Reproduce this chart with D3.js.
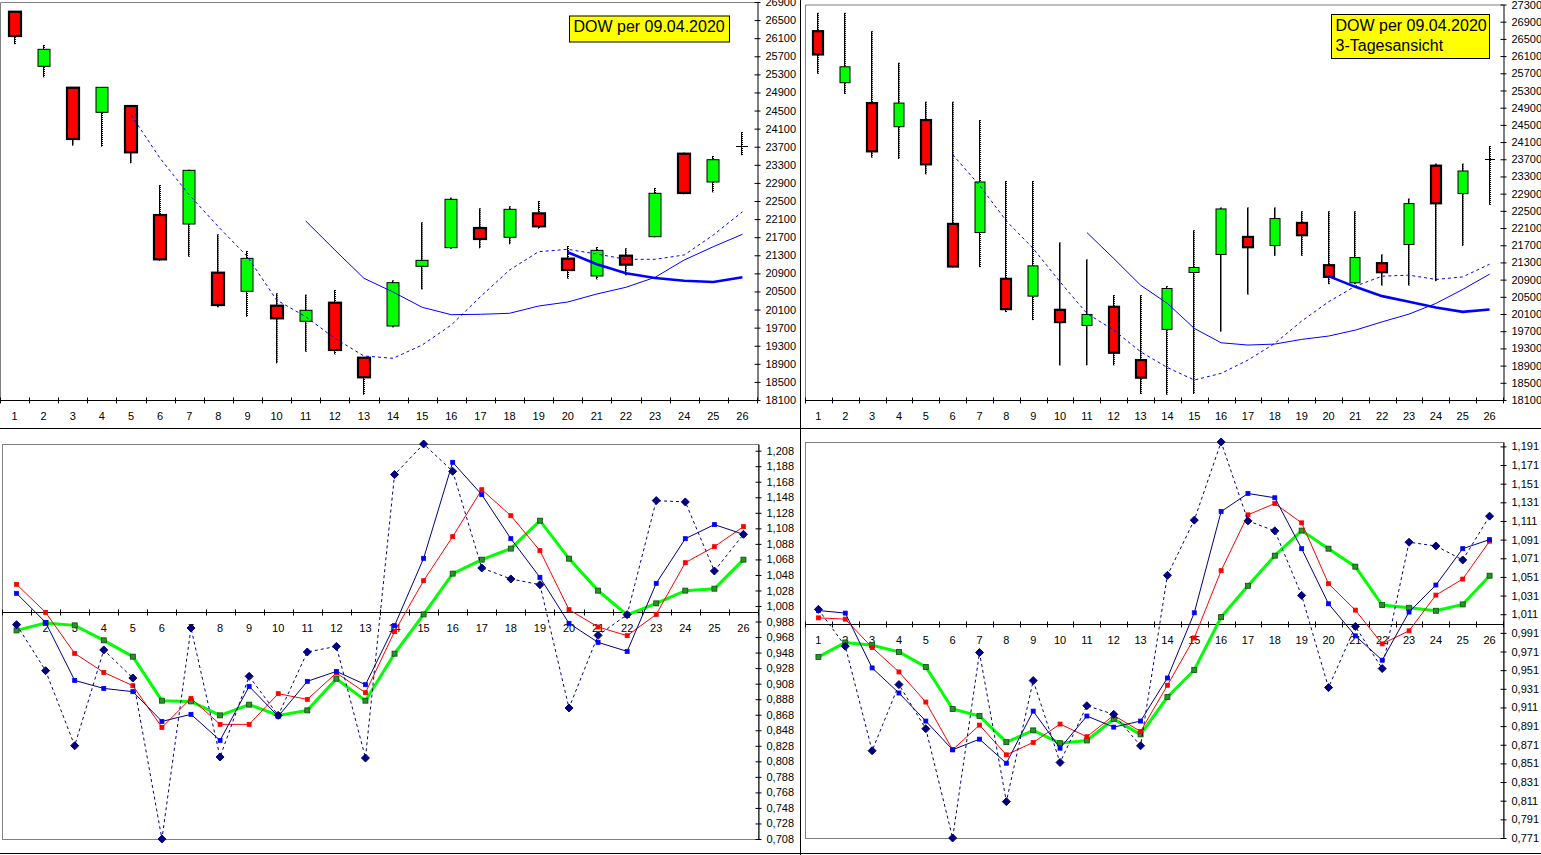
<!DOCTYPE html>
<html><head><meta charset="utf-8">
<script src="https://cdn.jsdelivr.net/npm/d3@7/dist/d3.min.js"></script>
<style>
body{margin:0;background:#fff;}
svg{display:block;}
</style></head><body>
<svg id="c" width="1541" height="855"></svg>
<script>
// ---------------- DATA ----------------
const categories = ["1","2","3","4","5","6","7","8","9","10","11","12","13","14","15","16","17","18","19","20","21","22","23","24","25","26"];

// Top-left: daily candles
const dayOpen  = [26685,25478,25005,24461,24600,22190,21991,20915,20503,20185,19840,20251,19035,19736,21056,21468,21903,21697,22227,21225,20842,21291,21711,23546,22920,23709];
const dayHigh  = [26700,25950,25010,25020,24610,22854,23190,21763,21394,20459,20428,20532,19050,20746,22028,22573,22338,22382,22500,21505,21482,21454,22787,23568,23495,24025];
const dayLow   = [25965,25235,23723,23701,23333,21180,21269,20150,19942,18911,19168,19110,18217,19707,20547,21446,21454,21542,21888,20783,20768,20856,21697,22648,22692,23510];
const dayClose = [26148,25854,23871,25014,23576,21210,23178,20200,21232,19906,20083,19206,18602,20694,21188,22537,21660,22316,21940,20974,21409,21092,22670,22677,23413,23709];
const dayMaDashed = [null,null,null,null,24401,23444,22633,21932,21268,20311,19942,19464,19073,19022,19316,19758,20384,20974,21379,21432,21328,21211,21211,21306,21748,22263];
const dayMaSolid  = [null,null,null,null,null,null,null,null,null,null,22058,21417,20791,20488,20150,19986,19995,20017,20178,20267,20444,20592,20813,21195,21490,21764];
const dayMaThick  = [null,null,null,null,null,null,null,null,null,null,null,null,null,null,null,null,null,null,null,21366,21100,20901,20797,20738,20709,20813];
const dayPriceDomain = [18100, 26900];
const dayPriceTicks = [18100,18500,18900,19300,19700,20100,20500,20900,21300,21700,22100,22500,22900,23300,23700,24100,24500,24900,25300,25700,26100,26500,26900];

// Top-right: 3-day candles
const triOpen  = [26679,25480,25007,24457,24612,22196,21995,20919,20516,20198,19834,20268,19029,19742,21066,21484,21894,21693,22219,21236,20826,21283,21716,23551,22901,23706];
const triHigh  = [27106,27106,26679,25944,25038,25038,24612,23195,23195,21763,21368,20539,20539,20748,22049,22577,22577,22577,22491,22491,22491,21484,22785,23598,23598,24008];
const triLow   = [25689,25216,23737,23706,23350,21182,21190,20144,19958,18905,18905,18905,18239,18223,18239,19687,20555,21453,21453,20795,20795,20764,20764,20864,21685,22638];
const triClose = [26138,25851,23884,25007,23582,21205,23172,20214,21220,19912,20090,19199,18619,20694,21182,22544,21654,22320,21933,20965,21414,21073,22669,22676,23427,23706];
const triMaDashed = [null,null,null,null,null,23808,23094,22265,21624,20848,20114,19726,19222,18855,18565,18720,19029,19417,19935,20384,20748,20981,21004,20904,20964,21259];
const triMaSolid  = [null,null,null,null,null,null,null,null,null,null,21996,21392,20771,20346,19766,19431,19378,19401,19510,19587,19726,19919,20098,20346,20672,21027];
const triMaThick  = [null,null,null,null,null,null,null,null,null,null,null,null,null,null,null,null,null,null,null,20981,20732,20516,20384,20253,20151,20207];
const triPriceDomain = [18100, 27300];
const triPriceTicks = [18100,18500,18900,19300,19700,20100,20500,20900,21300,21700,22100,22500,22900,23300,23700,24100,24500,24900,25300,25700,26100,26500,26900,27300];

// Bottom-left: daily ratios
const dayRatioD = [0.984,0.9247,0.8281,0.9514,0.9153,0.708,0.9797,0.8136,0.9174,0.8672,0.9488,0.956,0.8123,1.1772,1.2166,1.1814,1.057,1.0428,1.0355,0.8767,0.9702,0.9969,1.1437,1.142,1.0531,1.1003];
const dayRatioB = [1.0243,0.9869,0.9122,0.9019,0.8977,0.8594,0.8685,0.835,0.9045,0.8659,0.911,0.9238,0.9067,0.9827,1.0694,1.193,1.1514,1.0947,1.0449,0.9857,0.9612,0.9496,1.0372,1.0947,1.1128,1.1003];
const dayRatioR = [1.0359,0.9998,0.947,0.9225,0.9054,0.8517,0.8891,0.8556,0.8556,0.8951,0.8878,0.9218,0.8964,0.975,1.0406,1.0973,1.1578,1.1243,1.0793,1.0033,0.981,0.9698,0.9972,1.0638,1.0844,1.1102];
const dayRatioG = [0.9766,0.9862,0.9831,0.9638,0.9428,0.8861,0.8852,0.8672,0.881,0.8672,0.8736,0.9144,0.8861,0.9466,0.9972,1.0497,1.0677,1.0819,1.1179,1.069,1.0278,0.9965,1.0114,1.0278,1.0303,1.0677];
const dayRatioDomain = [0.708, 1.2166];
const dayRatioTicks = [0.708,0.728,0.748,0.768,0.788,0.808,0.828,0.848,0.868,0.888,0.908,0.928,0.948,0.968,0.988,1.008,1.028,1.048,1.068,1.088,1.108,1.128,1.148,1.168,1.188,1.208];

// Bottom-right: 3-day ratios
const triRatioD = [1.0162,0.9767,0.8646,0.9355,0.8882,0.771,0.9699,0.81,0.9398,0.852,0.9129,0.9036,0.8699,1.0527,1.1119,1.1957,1.1111,1.1004,1.0312,0.9323,0.9979,0.9527,1.0882,1.0842,1.0692,1.1162];
const triRatioB = [1.015,1.0122,0.9534,0.9265,0.8964,0.8656,0.877,0.8512,0.9071,0.8673,0.9018,0.8899,0.8964,0.9426,1.0125,1.1211,1.1405,1.1359,1.0813,1.0222,0.9878,0.9617,1.0133,1.0423,1.0813,1.091];
const triRatioR = [1.0071,1.0057,0.9753,0.9491,0.9168,0.8656,0.8921,0.8602,0.8735,0.8932,0.8796,0.9025,0.8853,0.9348,0.9856,1.0577,1.1176,1.1297,1.109,1.0437,1.0154,0.9792,0.9932,1.0315,1.0487,1.0893];
const triRatioG = [0.9652,0.9807,0.9778,0.9706,0.9544,0.9093,0.9018,0.8738,0.8864,0.8727,0.8756,0.8985,0.8821,0.9222,0.9512,1.0079,1.0415,1.0738,1.1007,1.0813,1.062,1.0208,1.0179,1.0147,1.0215,1.0523];
const triRatioDomain = [0.771, 1.1957];
const triRatioTicks = [0.771,0.791,0.811,0.831,0.851,0.871,0.891,0.911,0.931,0.951,0.971,0.991,1.011,1.031,1.051,1.071,1.091,1.111,1.131,1.151,1.171,1.191];
const ratioCrossAt = 1.0;

const titleDay = ["DOW per 09.04.2020"];
const titleTri = ["DOW per 09.04.2020", "3-Tagesansicht"];

// ---------------- LAYOUT / STYLE ----------------
const FONT = '"Liberation Sans", Arial, sans-serif';
const svg = d3.select('#c');
svg.append('rect').attr('width',1541).attr('height',855).attr('fill','#fff');

const layoutTL = {x0:0, x1:757, yt:2, yb:400, bodyFrac:0.42, box:{x:569, y:15.5, w:160, h:26}};
const layoutTR = {x0:805, x1:1503, yt:4.5, yb:400, bodyFrac:0.39, box:{x:1331, y:14, w:158, h:44}};
const layoutBL = {x0:2, x1:758, yt:444, yb:839};
const layoutBR = {x0:805, x1:1503, yt:442, yb:838};

function yAxisRight(g, y, xPix, ticks, fmt){
  const ay = d3.axisRight(y).tickValues(ticks).tickSizeInner(3).tickSizeOuter(0).tickPadding(5).tickFormat(fmt);
  const ga = g.append('g').attr('transform', `translate(${xPix+0.5},0)`).call(ay);
  ga.attr('font-family', FONT).attr('font-size', 11);
  ga.select('.domain').attr('stroke', '#000');
  ga.selectAll('.tick line').attr('x1', -3).attr('x2', 3).attr('stroke', '#000');
  ga.selectAll('.tick text').attr('fill', '#000');
}

function xAxisBand(g, x, yPix){
  const yp = Math.round(yPix) + 0.5;
  const [r0, r1] = x.range();
  g.append('line').attr('x1', r0).attr('x2', r1).attr('y1', yp).attr('y2', yp).attr('stroke', '#000');
  const bounds = x.domain().map(c => x(c)).concat([r1]);
  g.selectAll(null).data(bounds).join('line')
    .attr('x1', d => Math.round(d) + 0.5).attr('x2', d => Math.round(d) + 0.5)
    .attr('y1', yp - 3).attr('y2', yp + 3).attr('stroke', '#000');
  const ga = g.append('g').attr('transform', `translate(0,${yp})`).call(d3.axisBottom(x).tickSize(0).tickPadding(0));
  ga.select('.domain').remove();
  ga.attr('font-family', FONT).attr('font-size', 11);
  ga.selectAll('text').attr('y', 16).attr('dy', '0.35em').attr('fill', '#000');
}

function titleBox(g, b, lines){
  g.append('rect').attr('x', b.x + 0.5).attr('y', b.y + 0.5).attr('width', b.w).attr('height', b.h)
    .attr('fill', '#ffff00').attr('stroke', '#000');
  g.selectAll(null).data(lines).join('text')
    .attr('x', b.x + 4.5).attr('y', (d, i) => b.y + 16.5 + i * 20)
    .attr('font-family', FONT).attr('font-size', 16).attr('fill', '#000').text(d => d);
}

function candlePanel(L, D){
  const g = svg.append('g');
  const x = d3.scaleBand().domain(categories).range([L.x0, L.x1]);
  const y = d3.scaleLinear().domain(D.domain).range([L.yb, L.yt]);
  g.append('path').attr('d', `M${L.x0 + 0.5},${L.yb}V${L.yt + 0.5}H${L.x1}`).attr('fill', 'none').attr('stroke', '#808080');
  xAxisBand(g, x, L.yb);
  yAxisRight(g, y, L.x1, D.ticks, d3.format('d'));

  const idx = d3.range(categories.length);
  const cx = i => Math.round(x(categories[i]) + x.bandwidth() / 2);
  const bw = Math.round(x.bandwidth() * L.bodyFrac);
  // high-low lines (hatched look)
  g.selectAll(null).data(idx).join('line')
    .attr('x1', i => cx(i) - 0.5).attr('x2', i => cx(i) - 0.5)
    .attr('y1', i => y(D.high[i])).attr('y2', i => y(D.low[i])).attr('stroke', '#000').attr('stroke-width', 1);
  g.selectAll(null).data(idx).join('line')
    .attr('x1', i => cx(i) + 0.5).attr('x2', i => cx(i) + 0.5)
    .attr('y1', i => y(D.high[i])).attr('y2', i => y(D.low[i])).attr('stroke', '#000').attr('stroke-width', 1)
    .attr('stroke-dasharray', '1,1');
  // bodies
  idx.forEach(i => {
    const o = D.open[i], c = D.close[i];
    if (o === c) {
      g.append('line').attr('x1', cx(i) - bw / 2).attr('x2', cx(i) + bw / 2)
        .attr('y1', Math.round(y(o)) + 0.5).attr('y2', Math.round(y(o)) + 0.5).attr('stroke', '#000');
      return;
    }
    const up = c > o;
    const top = y(Math.max(o, c)), bot = y(Math.min(o, c));
    g.append('rect').attr('x', cx(i) - bw / 2).attr('y', top).attr('width', bw).attr('height', bot - top)
      .attr('fill', up ? '#00ff00' : '#ff0000').attr('stroke', '#000').attr('stroke-width', up ? 1 : 2.2);
  });
  // moving averages
  const line = d3.line().defined(d => d.v != null).x(d => x(d.c) + x.bandwidth() / 2).y(d => y(d.v));
  const series = (arr) => arr.map((v, i) => ({c: categories[i], v}));
  g.append('path').attr('d', line(series(D.maSolid))).attr('fill', 'none').attr('stroke', '#0000ff').attr('stroke-width', 1);
  g.append('path').attr('d', line(series(D.maDashed))).attr('fill', 'none').attr('stroke', '#0000ff').attr('stroke-width', 1).attr('stroke-dasharray', '3,3');
  g.append('path').attr('d', line(series(D.maThick))).attr('fill', 'none').attr('stroke', '#0000ff').attr('stroke-width', 2.6);
  titleBox(g, L.box, D.title);
}

function ratioPanel(L, D){
  const g = svg.append('g');
  const x = d3.scaleBand().domain(categories).range([L.x0, L.x1]);
  const y = d3.scaleLinear().domain(D.domain).range([L.yb, L.yt]);
  g.append('rect').attr('x', L.x0 + 0.5).attr('y', L.yt + 0.5).attr('width', L.x1 - L.x0).attr('height', L.yb - L.yt)
    .attr('fill', 'none').attr('stroke', '#808080');
  yAxisRight(g, y, L.x1, D.ticks, v => d3.format('.3f')(v).replace('.', ','));
  xAxisBand(g, x, y(ratioCrossAt));

  const px = i => x(categories[i]) + x.bandwidth() / 2;
  const line = d3.line().x((d, i) => px(i)).y(d => y(d));
  const specs = [
    {data: D.g, stroke: '#00ff00', w: 3, dash: null, marker: 'sq', mfill: '#2f8f2f', mstroke: '#005000', ms: 5},
    {data: D.r, stroke: '#ff0000', w: 1, dash: null, marker: 'sq', mfill: '#ff0000', mstroke: '#ff0000', ms: 4},
    {data: D.b, stroke: '#000080', w: 1, dash: null, marker: 'sq', mfill: '#0000ff', mstroke: '#0000ff', ms: 4},
    {data: D.d, stroke: '#000080', w: 1, dash: '3,3', marker: 'dia', mfill: '#000080', mstroke: '#000080', ms: 4}
  ];
  specs.forEach(s => {
    g.append('path').attr('d', line(s.data)).attr('fill', 'none').attr('stroke', s.stroke)
      .attr('stroke-width', s.w).attr('stroke-dasharray', s.dash);
    const m = g.selectAll(null).data(s.data).join(s.marker === 'sq' ? 'rect' : 'path');
    if (s.marker === 'sq') {
      m.attr('x', (d, i) => px(i) - s.ms / 2).attr('y', d => y(d) - s.ms / 2)
        .attr('width', s.ms).attr('height', s.ms).attr('fill', s.mfill).attr('stroke', s.mstroke).attr('stroke-width', 0.8);
    } else {
      m.attr('d', `M0,${-s.ms}L${s.ms},0L0,${s.ms}L${-s.ms},0Z`)
        .attr('transform', (d, i) => `translate(${px(i)},${y(d)})`).attr('fill', s.mfill).attr('stroke', s.mstroke);
    }
  });
}

candlePanel(layoutTL, {domain: dayPriceDomain, ticks: dayPriceTicks, open: dayOpen, high: dayHigh, low: dayLow, close: dayClose,
  maDashed: dayMaDashed, maSolid: dayMaSolid, maThick: dayMaThick, title: titleDay});
candlePanel(layoutTR, {domain: triPriceDomain, ticks: triPriceTicks, open: triOpen, high: triHigh, low: triLow, close: triClose,
  maDashed: triMaDashed, maSolid: triMaSolid, maThick: triMaThick, title: titleTri});
ratioPanel(layoutBL, {domain: dayRatioDomain, ticks: dayRatioTicks, d: dayRatioD, b: dayRatioB, r: dayRatioR, g: dayRatioG});
ratioPanel(layoutBR, {domain: triRatioDomain, ticks: triRatioTicks, d: triRatioD, b: triRatioB, r: triRatioR, g: triRatioG});

// panel dividers
svg.append('line').attr('x1', 800.5).attr('x2', 800.5).attr('y1', 0).attr('y2', 855).attr('stroke', '#000');
svg.append('line').attr('x1', 0).attr('x2', 1541).attr('y1', 428.5).attr('y2', 428.5).attr('stroke', '#000');
svg.append('line').attr('x1', 0).attr('x2', 1541).attr('y1', 853.5).attr('y2', 853.5).attr('stroke', '#000');
</script>
</body></html>
